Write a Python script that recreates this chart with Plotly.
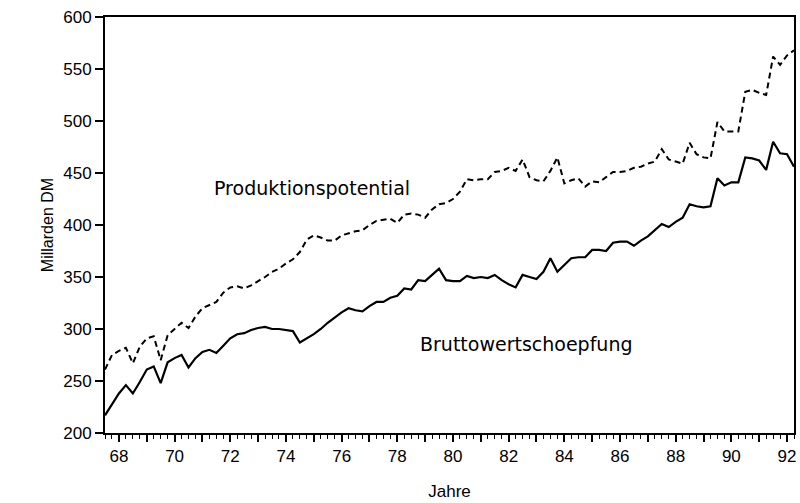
import plotly.graph_objects as go

# Quarterly time axis, 1968 Q1 .. 1992 Q4
jahre = list(range(1968, 1993))
quartale = [j + (q - 1) / 4 for j in jahre for q in range(1, 5)]

# Gross value added (Mrd. DM), quarterly
bruttowertschoepfung = [
    217, 228, 238, 246, 238, 249, 261, 264, 248, 268,
    272, 275, 263, 272, 278, 280, 277, 284, 291, 295,
    296, 299, 301, 302, 300, 300, 299, 298, 287, 291,
    295, 300, 306, 311, 316, 320, 318, 317, 322, 326,
    326, 330, 332, 339, 338, 347, 346, 352, 358, 347,
    346, 346, 351, 349, 350, 349, 352, 347, 343, 340,
    352, 350, 348, 355, 368, 355, 362, 368, 369, 369,
    376, 376, 375, 383, 384, 384, 380, 385, 389, 395,
    401, 398, 403, 407, 420, 418, 417, 418, 445, 438,
    441, 441, 465, 464, 462, 453, 480, 469, 468, 456,
]

# Production potential (Mrd. DM), quarterly
produktionspotential = [
    261, 275, 279, 282, 267, 283, 291, 293, 270, 294,
    300, 306, 301, 312, 320, 323, 326, 335, 340, 341,
    339, 342, 346, 350, 355, 358, 363, 367, 374, 386,
    390, 388, 385, 385, 390, 392, 394, 395, 400, 404,
    405, 406, 402, 410, 411, 410, 407, 415, 420, 421,
    425, 432, 444, 443, 444, 444, 451, 452, 455, 452,
    463, 446, 443, 442, 452, 465, 440, 443, 445, 437,
    442, 441, 446, 451, 451, 452, 455, 456, 459, 461,
    473, 463, 461, 459, 479, 468, 465, 464, 499, 490,
    490, 490, 528, 530, 527, 525, 562, 554, 563, 568,
]

tick_pos = [j + 0.5 for j in jahre]
tick_txt = [f"{j % 100:02d}" if j % 2 == 0 else "" for j in jahre]

font = "Liberation Sans, Arial, sans-serif"
label_font = "DejaVu Sans, sans-serif"

fig = go.Figure()
fig.add_trace(go.Scatter(
    x=quartale, y=produktionspotential, mode="lines",
    name="Produktionspotential",
    line=dict(color="black", width=2, dash="6px,4px"),
))
fig.add_trace(go.Scatter(
    x=quartale, y=bruttowertschoepfung, mode="lines",
    name="Bruttowertschoepfung",
    line=dict(color="black", width=2.2),
))

fig.add_annotation(x=1975.42, y=436, text="Produktionspotential",
                   showarrow=False,
                   font=dict(family=label_font, size=19, color="black"))
fig.add_annotation(x=1983.15, y=286, text="Bruttowertschoepfung",
                   showarrow=False,
                   font=dict(family=label_font, size=19, color="black"))

fig.update_layout(
    width=800, height=503,
    margin=dict(l=105, r=4, t=17, b=70),
    paper_bgcolor="white", plot_bgcolor="white",
    showlegend=False,
    font=dict(family=font, size=17, color="black"),
    xaxis=dict(
        range=[1968, 1992.75],
        tickvals=tick_pos, ticktext=tick_txt,
        ticks="outside", ticklen=7, tickwidth=1.5, tickcolor="black",
        minor=dict(dtick=0.25, tick0=1968, ticks="outside", ticklen=4,
                   tickwidth=1, tickcolor="black", showgrid=False),
        showline=True, linecolor="black", linewidth=2, mirror=True,
        showgrid=False, zeroline=False,
        title=dict(text="Jahre", standoff=20, font=dict(size=17)),
    ),
    yaxis=dict(
        range=[200, 600], dtick=50,
        ticks="outside", ticklen=8, tickwidth=1.5, tickcolor="black",
        showline=True, linecolor="black", linewidth=2, mirror=True,
        showgrid=False, zeroline=False,
        title=dict(text="Millarden DM", standoff=6, font=dict(size=16)),
    ),
)

fig.write_html("out.html")
